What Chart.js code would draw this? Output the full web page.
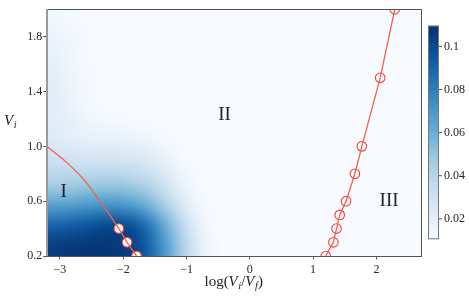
<!DOCTYPE html>
<html>
<head>
<meta charset="utf-8">
<script src="https://cdn.jsdelivr.net/npm/chart.js@4.4.1/dist/chart.umd.min.js"></script>
<style>
  html, body { margin: 0; padding: 0; background: #fff; }
  #chart { display: block; }
</style>
</head>
<body>
<canvas id="chart" width="469" height="302"></canvas>
<script>
// --- axes ---
const xTicks = [-3, -2, -1, 0, 1, 2];
const yTicks = [0.2, 0.6, 1.0, 1.4, 1.8];
const xRange = [-3.21, 2.7];
const yRange = [0.2, 2.0];

// --- boundary curves ---
const leftLineX = [-3.21, -2.9, -2.6, -2.3, -2.07, -1.94, -1.79];
const leftLineY = [1.0, 0.885, 0.745, 0.555, 0.40, 0.30, 0.20];
const leftMarkX = [-2.07, -1.94, -1.79];
const leftMarkY = [0.40, 0.30, 0.20];
const rightX = [1.20, 1.32, 1.37, 1.42, 1.52, 1.66, 1.77, 2.06, 2.29];
const rightY = [0.2, 0.3, 0.4, 0.5, 0.6, 0.8, 1.0, 1.5, 2.0];

// --- region labels ---
const regionNames = ['I', 'II', 'III'];
const regionX = [-2.94, -0.40, 2.20];
const regionY = [0.67, 1.23, 0.60];

// --- density grid (cell centres, rows bottom -> top) ---
const gridX = [-3.15, -2.85, -2.55, -2.25, -1.95, -1.65, -1.35, -1.05, -0.75, -0.45, -0.15];
const gridY = [0.275, 0.425, 0.575, 0.725, 0.875, 1.025, 1.175, 1.325, 1.475, 1.625, 1.775, 1.925];
const density = [
  [0.104, 0.106, 0.107, 0.107, 0.105, 0.094, 0.070, 0.042, 0.018, 0.010, 0.010],
  [0.090, 0.092, 0.096, 0.100, 0.100, 0.087, 0.062, 0.036, 0.015, 0.010, 0.010],
  [0.065, 0.066, 0.069, 0.071, 0.069, 0.060, 0.043, 0.024, 0.012, 0.010, 0.010],
  [0.044, 0.045, 0.047, 0.048, 0.046, 0.041, 0.029, 0.017, 0.010, 0.010, 0.010],
  [0.033, 0.032, 0.031, 0.031, 0.030, 0.027, 0.020, 0.012, 0.010, 0.010, 0.010],
  [0.025, 0.022, 0.020, 0.020, 0.019, 0.017, 0.013, 0.010, 0.010, 0.010, 0.010],
  [0.022, 0.019, 0.015, 0.013, 0.012, 0.011, 0.010, 0.010, 0.010, 0.010, 0.010],
  [0.022, 0.017, 0.012, 0.010, 0.010, 0.010, 0.010, 0.010, 0.010, 0.010, 0.010],
  [0.021, 0.016, 0.012, 0.010, 0.010, 0.010, 0.010, 0.010, 0.010, 0.010, 0.010],
  [0.019, 0.015, 0.011, 0.010, 0.010, 0.010, 0.010, 0.010, 0.010, 0.010, 0.010],
  [0.017, 0.014, 0.011, 0.010, 0.010, 0.010, 0.010, 0.010, 0.010, 0.010, 0.010],
  [0.013, 0.012, 0.010, 0.010, 0.010, 0.010, 0.010, 0.010, 0.010, 0.010, 0.010]
];

// --- colorbar ---
const cbRange = [0.0105, 0.1096];
const cbTicks = [0.02, 0.04, 0.06, 0.08, 0.1];

const BLUES = ['#f7fbff', '#deebf7', '#c6dbef', '#9ecae1', '#6baed6', '#4292c6', '#2171b5', '#08519c', '#08306b'];
const LINE_RED = '#f4604c';
const MARK_RED = '#ff3a3a';
const SERIF = '"Liberation Serif", "DejaVu Serif", serif';

function hexRgb(h) {
  return [parseInt(h.slice(1, 3), 16), parseInt(h.slice(3, 5), 16), parseInt(h.slice(5, 7), 16)];
}
const bluesRgb = BLUES.map(hexRgb);

function blues(t) {
  t = Math.max(0, Math.min(1, t));
  const s = t * (bluesRgb.length - 1);
  const i = Math.min(Math.floor(s), bluesRgb.length - 2);
  const f = s - i;
  return bluesRgb[i].map((c, k) => Math.round(c + (bluesRgb[i + 1][k] - c) * f));
}

// tiny image, one pixel per grid cell; the browser smooths it when scaled
const heatImg = document.createElement('canvas');
heatImg.width = gridX.length;
heatImg.height = gridY.length;
(function () {
  const ictx = heatImg.getContext('2d');
  const id = ictx.createImageData(heatImg.width, heatImg.height);
  for (let r = 0; r < gridY.length; r++) {
    for (let c = 0; c < gridX.length; c++) {
      const rgb = blues((density[r][c] - cbRange[0]) / (cbRange[1] - cbRange[0]));
      const p = ((gridY.length - 1 - r) * gridX.length + c) * 4;
      id.data[p] = rgb[0]; id.data[p + 1] = rgb[1]; id.data[p + 2] = rgb[2]; id.data[p + 3] = 255;
    }
  }
  ictx.putImageData(id, 0, 0);
})();

function fmt(v, digits) {
  return v.toFixed(digits).replace('-', '\u2212');
}

// draw text made of runs: [text, italic, subscript]
function drawRuns(ctx, runs, x, y, size, align) {
  const widths = runs.map(r => {
    ctx.font = (r[1] ? 'italic ' : '') + (r[2] ? size * 0.7 : size) + 'px ' + SERIF;
    return ctx.measureText(r[0]).width + (r[1] && !r[2] ? 0.5 : 0);
  });
  const total = widths.reduce((a, b) => a + b, 0);
  let cx = align === 'center' ? x - total / 2 : x;
  runs.forEach((r, i) => {
    ctx.font = (r[1] ? 'italic ' : '') + (r[2] ? size * 0.7 : size) + 'px ' + SERIF;
    ctx.fillText(r[0], cx, r[2] ? y + size * 0.22 : y);
    cx += widths[i];
  });
}

const heatmapPlugin = {
  id: 'heatmap',
  beforeDatasetsDraw(chart) {
    const { ctx, chartArea: a, scales: { x, y } } = chart;
    const dx = gridX[1] - gridX[0];
    const dy = gridY[1] - gridY[0];
    const left = x.getPixelForValue(gridX[0] - dx / 2);
    const right = x.getPixelForValue(gridX[gridX.length - 1] + dx / 2);
    const top = y.getPixelForValue(gridY[gridY.length - 1] + dy / 2);
    const bottom = y.getPixelForValue(gridY[0] - dy / 2);
    ctx.save();
    ctx.beginPath();
    ctx.rect(a.left, a.top, a.right - a.left, a.bottom - a.top);
    ctx.clip();
    ctx.fillStyle = BLUES[0];
    ctx.fillRect(a.left, a.top, a.right - a.left, a.bottom - a.top);
    ctx.imageSmoothingEnabled = true;
    ctx.imageSmoothingQuality = 'high';
    ctx.drawImage(heatImg, left, top, right - left, bottom - top);
    ctx.restore();
  },
  afterDraw(chart) {
    const { ctx, chartArea: a, scales: { x, y } } = chart;
    ctx.save();
    // frame
    ctx.strokeStyle = '#555';
    ctx.lineWidth = 1;
    ctx.strokeRect(Math.round(a.left) + 0.5, Math.round(a.top) + 0.5,
      Math.round(a.right - a.left), Math.round(a.bottom - a.top));
    ctx.strokeStyle = '#9a9a9a';
    ctx.lineWidth = 2;
    ctx.beginPath();
    ctx.moveTo(Math.round(a.left), a.top);
    ctx.lineTo(Math.round(a.left), a.bottom);
    ctx.stroke();

    // region labels
    ctx.fillStyle = '#222';
    ctx.textAlign = 'center';
    ctx.textBaseline = 'middle';
    ctx.font = '19px ' + SERIF;
    regionNames.forEach((n, i) => {
      ctx.fillText(n, x.getPixelForValue(regionX[i]), y.getPixelForValue(regionY[i]));
    });

    // axis titles
    ctx.textAlign = 'left';
    ctx.textBaseline = 'alphabetic';
    drawRuns(ctx, [['log(', false, false], ['V', true, false], ['i', true, true], ['/', false, false],
      ['V', true, false], ['f', true, true], [')', false, false]], (a.left + a.right) / 2, 286, 15, 'center');
    drawRuns(ctx, [['V', true, false], ['i', true, true]], 4, 125, 15, 'left');

    // colorbar
    const cbL = 428, cbR = 439, cbT = 25.7, cbB = 239.3;
    const grad = ctx.createLinearGradient(0, cbB, 0, cbT);
    BLUES.forEach((c, i) => grad.addColorStop(i / (BLUES.length - 1), c));
    ctx.fillStyle = grad;
    ctx.fillRect(cbL, cbT, cbR - cbL, cbB - cbT);
    ctx.strokeStyle = '#777';
    ctx.lineWidth = 1;
    ctx.strokeRect(cbL + 0.5, cbT + 0.5, cbR - cbL - 1, cbB - cbT - 1);
    ctx.fillStyle = '#262626';
    ctx.font = '12px ' + SERIF;
    ctx.textBaseline = 'middle';
    cbTicks.forEach(v => {
      const py = cbB - (v - cbRange[0]) / (cbRange[1] - cbRange[0]) * (cbB - cbT);
      ctx.strokeStyle = '#555';
      ctx.beginPath();
      ctx.moveTo(cbR, py);
      ctx.lineTo(cbR + 3, py);
      ctx.stroke();
      ctx.fillText(String(v), cbR + 5, py);
    });
    ctx.restore();
  }
};

const toPts = (xs, ys) => xs.map((v, i) => ({ x: v, y: ys[i] }));

new Chart(document.getElementById('chart'), {
  type: 'scatter',
  data: {
    datasets: [
      {
        data: toPts(leftLineX, leftLineY), showLine: true, tension: 0.3,
        borderColor: LINE_RED, borderWidth: 1.3, pointRadius: 0, order: 0, clip: 0
      },
      {
        data: toPts(rightX, rightY), showLine: true, tension: 0,
        borderColor: LINE_RED, borderWidth: 1.3, pointRadius: 0, order: 0, clip: 0
      },
      {
        data: toPts(leftMarkX, leftMarkY), pointRadius: 4.8, pointBorderWidth: 1.1,
        pointBackgroundColor: '#ffffff', pointBorderColor: MARK_RED, order: 1, clip: 0
      },
      {
        data: toPts(rightX, rightY), pointRadius: 4.8, pointBorderWidth: 1.1,
        pointBackgroundColor: 'rgba(0,0,0,0)', pointBorderColor: MARK_RED, order: 1, clip: 0
      }
    ]
  },
  options: {
    responsive: false,
    animation: false,
    events: [],
    layout: { padding: { top: 9.3, right: 48.3, left: 0, bottom: 0 } },
    plugins: { legend: { display: false }, tooltip: { enabled: false } },
    scales: {
      x: {
        type: 'linear', min: xRange[0], max: xRange[1],
        afterFit: s => { s.height = 46; },
        afterBuildTicks: s => { s.ticks = xTicks.map(v => ({ value: v })); },
        grid: { drawOnChartArea: false, drawTicks: true, tickLength: 3.5, color: '#555' },
        border: { display: false },
        ticks: { color: '#262626', padding: 3, font: { family: SERIF, size: 12 }, callback: v => fmt(v, 0) }
      },
      y: {
        type: 'linear', min: yRange[0], max: yRange[1],
        afterFit: s => { s.width = 46.7; },
        afterBuildTicks: s => { s.ticks = yTicks.map(v => ({ value: v })); },
        grid: { drawOnChartArea: false, drawTicks: true, tickLength: 3.5, color: '#555' },
        border: { display: false },
        ticks: { color: '#262626', padding: 1, font: { family: SERIF, size: 12 }, callback: v => fmt(v, 1) }
      }
    }
  },
  plugins: [heatmapPlugin]
});
</script>
</body>
</html>
